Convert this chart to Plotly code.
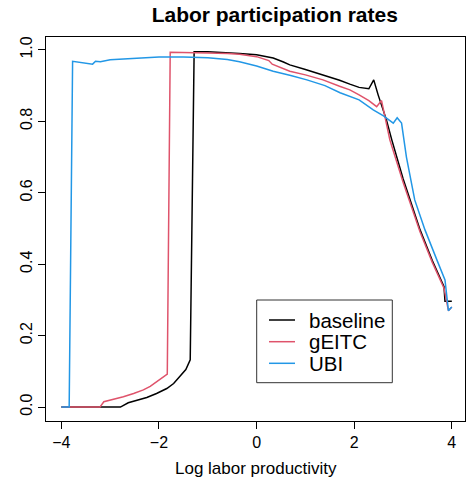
import plotly.graph_objects as go

# Data
baseline_x = [-4, -2.79, -2.63, -2.45, -2.25, -2.05, -1.84, -1.70, -1.57, -1.45, -1.36, -1.28,
              -1.0, -0.6, -0.35, 0.0, 0.34, 0.55, 0.68, 1.0, 1.36, 1.7, 1.91, 2.1, 2.30, 2.40,
              2.49, 2.66, 2.77, 3.0, 3.35, 3.6, 3.84, 3.86, 4.0]
baseline_y = [0, 0, 0.012, 0.019, 0.027, 0.038, 0.052, 0.066, 0.085, 0.105, 0.132, 0.995,
              0.995, 0.993, 0.99, 0.986, 0.977, 0.966, 0.958, 0.945, 0.93, 0.915, 0.904, 0.895,
              0.891, 0.916, 0.874, 0.804, 0.748, 0.64, 0.496, 0.41, 0.337, 0.296, 0.296]

geitc_x = [-4, -3.21, -3.13, -2.95, -2.73, -2.52, -2.32, -2.18, -2.05, -1.93, -1.83, -1.77,
           -1.28, -1.0, -0.6, -0.35, 0.0, 0.25, 0.32, 0.68, 1.0, 1.36, 1.7, 1.91, 2.1, 2.30,
           2.46, 2.56, 2.73, 3.0, 3.35, 3.6, 3.84, 3.93, 4.0]
geitc_y = [0, 0, 0.015, 0.021, 0.029, 0.038, 0.048, 0.058, 0.071, 0.081, 0.092, 0.993,
           0.993, 0.991, 0.99, 0.988, 0.981, 0.970, 0.960, 0.94, 0.93, 0.916, 0.898, 0.888,
           0.874, 0.858, 0.841, 0.858, 0.748, 0.63, 0.49, 0.405, 0.333, 0.27, 0.28]

ubi_x = [-4, -3.84, -3.77, -3.36, -3.3, -3.2, -3.0, -2.5, -2.0, -1.5, -1.0, -0.6, -0.35, 0.0,
         0.34, 0.7, 1.03, 1.4, 1.71, 2.1, 2.39, 2.6, 2.80, 2.88, 2.97, 3.02, 3.07, 3.24, 3.45,
         3.7, 3.86, 3.93, 4.0]
ubi_y = [0, 0, 0.968, 0.96, 0.968, 0.967, 0.972, 0.977, 0.98, 0.98, 0.978, 0.973, 0.967, 0.955,
         0.94, 0.928, 0.916, 0.9, 0.88, 0.86, 0.832, 0.815, 0.795, 0.81, 0.795, 0.747, 0.70, 0.58,
         0.496, 0.41, 0.356, 0.27, 0.28]

series_names = ["baseline", "gEITC", "UBI"]
series_colors = ["#000000", "#DF536B", "#2297E6"]

x_ticks = [-4, -2, 0, 2, 4]
x_tick_labels = ["\u22124", "\u22122", "0", "2", "4"]
y_ticks = [0.0, 0.2, 0.4, 0.6, 0.8, 1.0]
y_tick_labels = ["0.0", "0.2", "0.4", "0.6", "0.8", "1.0"]

FONT = "Liberation Sans, Arial, Helvetica, sans-serif"

fig = go.Figure()
for xs, ys, nm, col in zip([baseline_x, geitc_x, ubi_x], [baseline_y, geitc_y, ubi_y],
                           series_names, series_colors):
    fig.add_trace(go.Scatter(x=xs, y=ys, mode="lines", name=nm, showlegend=False,
                             line=dict(color=col, width=1.5)))

L, R, T, B = 46, 3, 37, 60
W, H = 468, 481
plot_w = W - L - R
plot_h = H - T - B


def px_x(px):
    return (px - L) / plot_w


def px_y(py):
    return (H - B - py) / plot_h


fig.update_layout(
    width=W, height=H, autosize=False,
    margin=dict(l=L, r=R, t=T, b=B, pad=0),
    paper_bgcolor="white", plot_bgcolor="white",
    font=dict(family=FONT, color="black", size=16),
    title=dict(text="<b>Labor participation rates</b>", x=(L + plot_w / 2) / W,
               xanchor="center", y=1 - 14.5 / H, yanchor="middle", xref="paper",
               font=dict(size=21, family=FONT, color="black")),
    xaxis=dict(range=[-4.315, 4.27], showgrid=False, zeroline=False,
               showline=True, linecolor="black", linewidth=1, mirror=True,
               ticks="outside", ticklen=7, tickcolor="black", tickwidth=1,
               tickvals=x_ticks, ticktext=x_tick_labels,
               tickfont=dict(size=16, family=FONT, color="black")),
    yaxis=dict(range=[-0.039, 1.036], showgrid=False, zeroline=False,
               showline=True, linecolor="black", linewidth=1, mirror=True,
               ticks="outside", ticklen=7, tickcolor="black", tickwidth=1,
               tickvals=y_ticks, ticktext=y_tick_labels, tickangle=-90,
               tickfont=dict(size=16, family=FONT, color="black")),
    showlegend=False,
)

# Legend box (R-style)
fig.add_shape(type="rect", xref="paper", yref="paper",
              x0=px_x(256.7), x1=px_x(392.3), y0=px_y(382.7), y1=px_y(300),
              line=dict(color="#333333", width=1), fillcolor="white", layer="above")
legend_rows = [320, 341.7, 363.3]
for nm, col, ry in zip(series_names, series_colors, legend_rows):
    fig.add_shape(type="line", xref="paper", yref="paper",
                  x0=px_x(269), x1=px_x(295), y0=px_y(ry), y1=px_y(ry),
                  line=dict(color=col, width=1.5), layer="above")
    fig.add_annotation(text=nm, xref="paper", yref="paper", x=px_x(307), y=px_y(ry),
                       xanchor="left", yanchor="middle", showarrow=False,
                       font=dict(size=20.5, family=FONT, color="black"))

fig.add_annotation(text="Log labor productivity", xref="paper", yref="paper",
                   x=0.5, y=px_y(468), xanchor="center", yanchor="middle",
                   showarrow=False, font=dict(size=17, family=FONT, color="black"))

fig.write_html("out.html", config={"displayModeBar": False},
               post_script="document.body.style.margin='0';document.body.style.padding='0';")
